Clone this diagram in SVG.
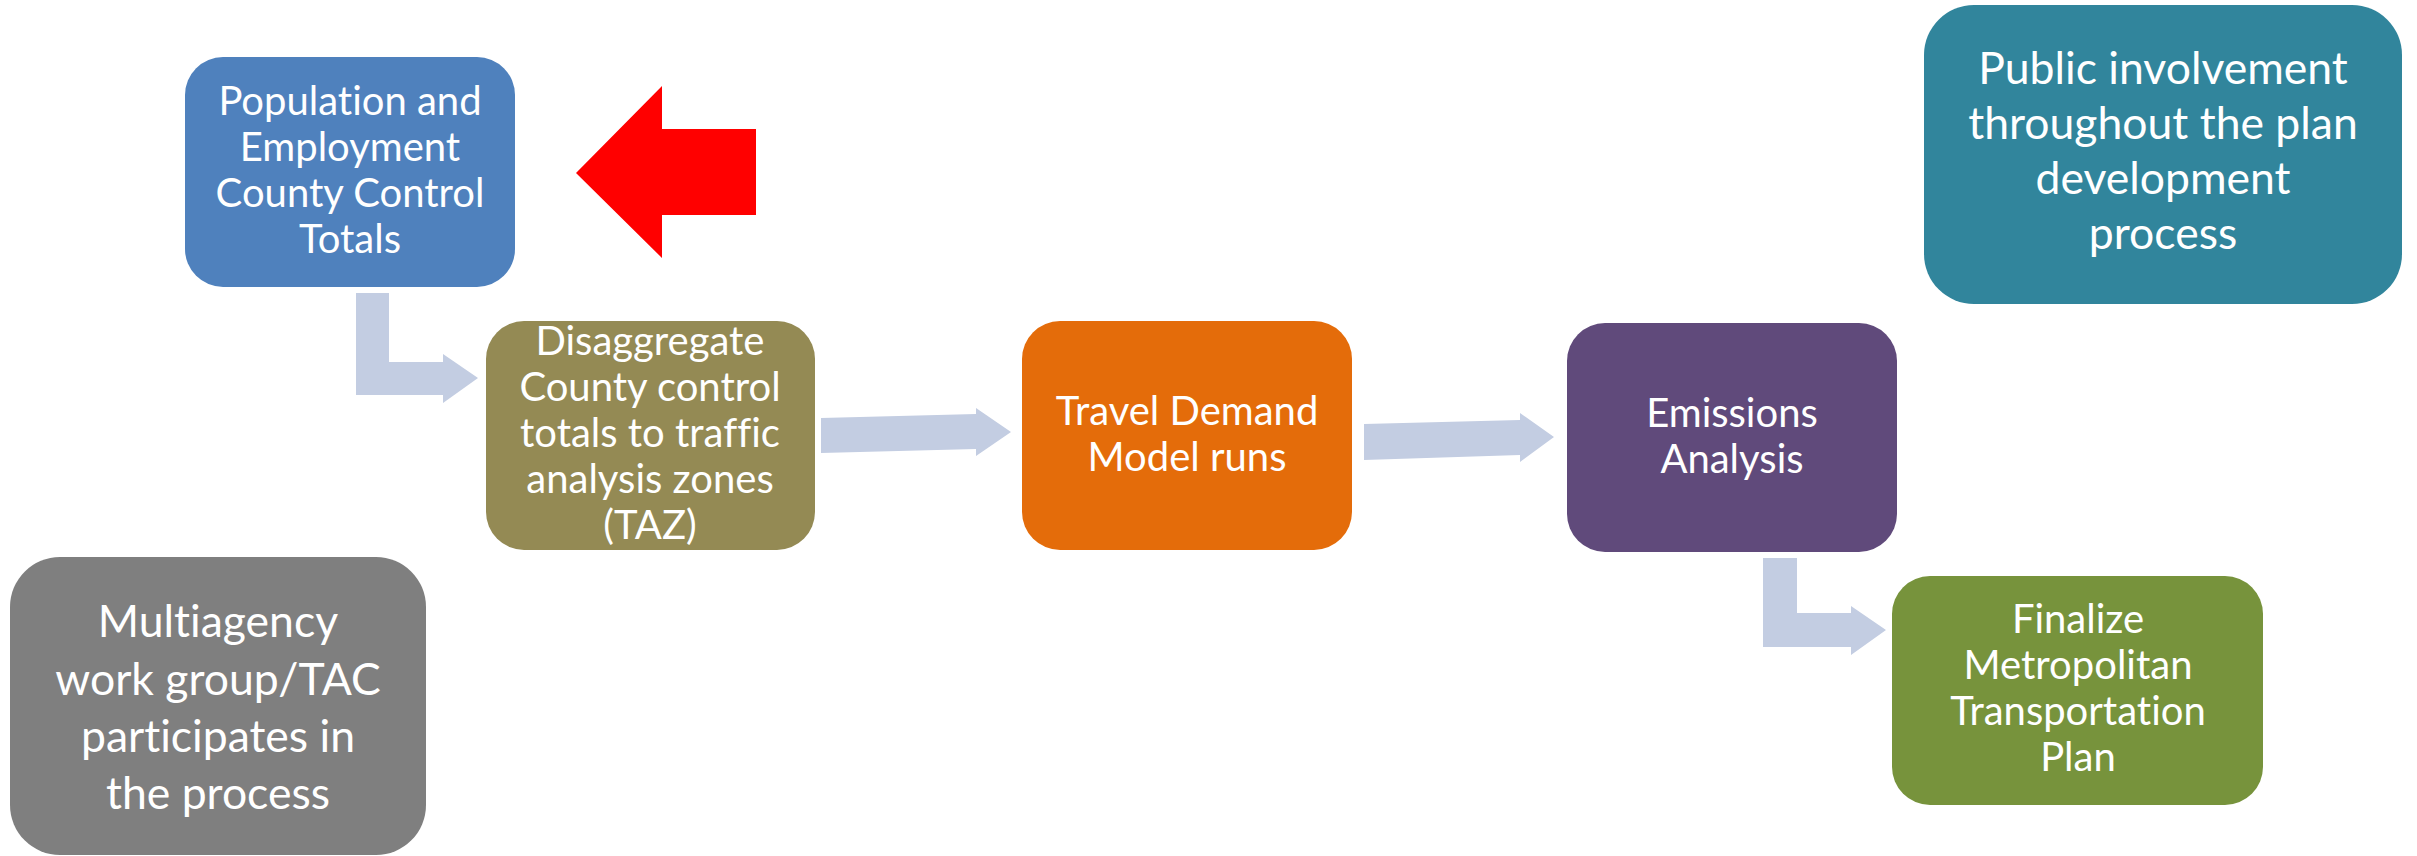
<svg xmlns="http://www.w3.org/2000/svg" width="2417" height="856" viewBox="0 0 2417 856">
<style>
.t{font-family:Lato,"Open Sans","Liberation Sans",sans-serif;fill:#FFFFFF;text-anchor:middle;font-variant-ligatures:none;font-feature-settings:"liga" 0,"clig" 0,"dlig" 0;}
.s{font-size:40px;}
.l{font-size:44.5px;}
.arr{fill:#C3CDE2;}
</style>
<rect width="2417" height="856" fill="#FFFFFF"/>
<g id="connectors">
<polygon class="arr" points="356,293 389,293 389,362 443,362 443,354 478,378 443,403 443,395 356,395"/>
<polygon class="arr" points="821,418 976,414 976,408 1011,432 976,456 976,449 821,453"/>
<polygon class="arr" points="1364,424 1520,420 1520,413 1554,437 1520,462 1520,455 1364,460"/>
<polygon class="arr" points="1763,558 1797,558 1797,613 1851,613 1851,606 1886,630 1851,655 1851,647 1763,647"/>
</g>
<g id="red-arrow">
<polygon points="576,173 662,86 662,129 756,129 756,215 662,215 662,258" fill="#FF0000"/>
</g>
<g id="population">
<rect x="185" y="57" width="330" height="230" rx="38" fill="#4F81BD"/>
<text class="t s" x="350" y="115">Population and</text>
<text class="t s" x="350" y="161">Employment</text>
<text class="t s" x="350" y="207">County Control</text>
<text class="t s" x="350" y="253">Totals</text>
</g>
<g id="disaggregate">
<rect x="486" y="321" width="329" height="229" rx="38" fill="#948A54"/>
<text class="t s" x="650" y="355">Disaggregate</text>
<text class="t s" x="650" y="401">County control</text>
<text class="t s" x="650" y="447">totals to traffic</text>
<text class="t s" x="650" y="493">analysis zones</text>
<text class="t s" x="650" y="539">(TAZ)</text>
</g>
<g id="travel-demand">
<rect x="1022" y="321" width="330" height="229" rx="38" fill="#E46C0A"/>
<text class="t s" x="1187" y="425">Travel Demand</text>
<text class="t s" x="1187" y="471">Model runs</text>
</g>
<g id="emissions">
<rect x="1567" y="323" width="330" height="229" rx="38" fill="#604A7B"/>
<text class="t s" x="1732" y="427">Emissions</text>
<text class="t s" x="1732" y="473">Analysis</text>
</g>
<g id="finalize">
<rect x="1892" y="576" width="371" height="229" rx="38" fill="#77933C"/>
<text class="t s" x="2078" y="633">Finalize</text>
<text class="t s" x="2078" y="679">Metropolitan</text>
<text class="t s" x="2078" y="725">Transportation</text>
<text class="t s" x="2078" y="771">Plan</text>
</g>
<g id="public">
<rect x="1924" y="5" width="478" height="299" rx="50" fill="#31859C"/>
<text class="t l" x="2163" y="84">Public involvement</text>
<text class="t l" x="2163" y="139">throughout the plan</text>
<text class="t l" x="2163" y="194">development</text>
<text class="t l" x="2163" y="249">process</text>
</g>
<g id="multiagency">
<rect x="10" y="557" width="416" height="298" rx="50" fill="#7F7F7F"/>
<text class="t l" x="218" y="637">Multiagency</text>
<text class="t l" x="218" y="695">work group/TAC</text>
<text class="t l" x="218" y="752">participates in</text>
<text class="t l" x="218" y="809">the process</text>
</g>
</svg>
